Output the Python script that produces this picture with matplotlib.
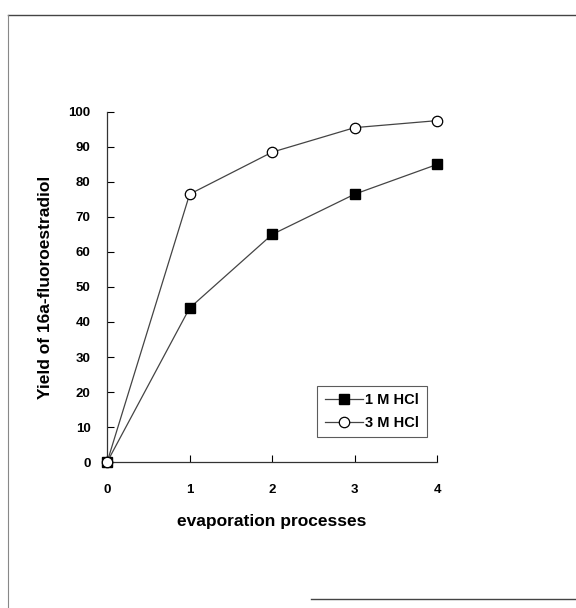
import numpy as np
from matplotlib import pyplot as plt
from matplotlib.lines import Line2D

plt.rcParams['font.family'] = ['Liberation Sans', 'DejaVu Sans']

steps = [0, 1, 2, 3, 4]
hcl_1m = [0, 44, 65, 76.5, 85]
hcl_3m = [0, 76.5, 88.5, 95.5, 97.5]
y_ticks = [0, 10, 20, 30, 40, 50, 60, 70, 80, 90, 100]

fig = plt.figure(figsize=(5.76, 6.08), dpi=100)
ax = fig.add_axes([0.186, 0.240, 0.573, 0.576])

ax.plot(steps, hcl_1m, color="#444444", lw=0.9, marker="s", ms=7,
        mfc="black", mec="black", label="1 M HCl", clip_on=False, zorder=3)
ax.plot(steps, hcl_3m, color="#444444", lw=0.9, marker="o", ms=7.5,
        mfc="white", mec="black", mew=0.9, label="3 M HCl", clip_on=False, zorder=4)

ax.set_xlim(0, 4)
ax.set_ylim(0, 100)
ax.set_xticks(steps)
ax.set_yticks(y_ticks)
ax.spines["top"].set_visible(False)
ax.spines["right"].set_visible(False)
for s in ("left", "bottom"):
    ax.spines[s].set_linewidth(0.9)
    ax.spines[s].set_color("#333333")
ax.tick_params(axis="both", direction="in", length=5, width=0.8)
ax.tick_params(axis="y", pad=12)
ax.tick_params(axis="x", pad=16)
for lab in ax.get_xticklabels() + ax.get_yticklabels():
    lab.set_fontweight("bold")
    lab.set_fontsize(9.5)

ax.set_xlabel("evaporation processes", fontsize=12.5, fontweight="bold", labelpad=13)
ax.set_ylabel("Yield of 16a-fluoroestradiol", fontsize=12.5, fontweight="bold", labelpad=11)

leg = ax.legend(loc="lower right", bbox_to_anchor=(0.99, 0.05), frameon=True,
                fancybox=False, edgecolor="#333333", prop={"weight": "bold", "size": 10.5},
                handlelength=2.6, borderpad=0.5, labelspacing=0.6, handletextpad=0.2)
leg.get_frame().set_linewidth(0.8)

# scanned page frame
fig.add_artist(Line2D([0.014, 1.0], [0.975, 0.975], color="#444444", lw=1.0))
fig.add_artist(Line2D([0.014, 0.014], [0.0, 0.975], color="#888888", lw=0.8))
fig.add_artist(Line2D([0.54, 1.0], [0.015, 0.015], color="#444444", lw=1.0))

fig.savefig("out.png", dpi=100)
